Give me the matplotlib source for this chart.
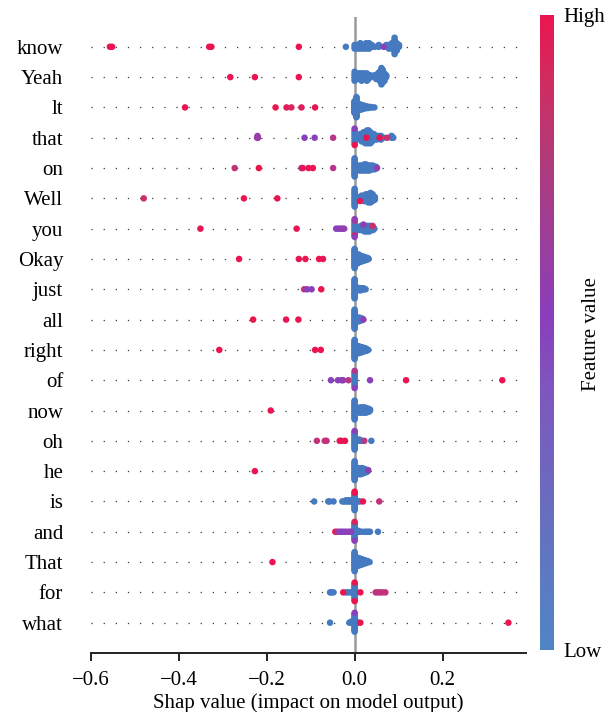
import numpy as np
import matplotlib
matplotlib.use("Agg")
import matplotlib.pyplot as plt
from matplotlib.colors import LinearSegmentedColormap
from matplotlib.cm import ScalarMappable

plt.rcParams['font.family'] = ['Liberation Serif', 'DejaVu Serif']

features = ["know", "Yeah", "lt", "that", "on", "Well", "you", "Okay", "just", "all",
            "right", "of", "now", "oh", "he", "is", "and", "That", "for", "what"]

# low-feature-value (blue) points: (SHAP value, number of points at that value)
know_low = [(-0.020, 1), (0, 3), (0.007, 3), (0.013, 4), (0.020, 3), (0.026, 4), (0.033, 4),
            (0.039, 2), (0.046, 1), (0.055, 2), (0.072, 2), (0.078, 3), (0.085, 4), (0.091, 6),
            (0.096, 5), (0.101, 2)]
Yeah_low = [(0, 6), (0.004, 3), (0.008, 4), (0.012, 4), (0.016, 5), (0.020, 4), (0.024, 4),
            (0.028, 5), (0.032, 3), (0.036, 2), (0.045, 2), (0.049, 3), (0.053, 4), (0.057, 6),
            (0.061, 10), (0.064, 8), (0.068, 5), (0.072, 2)]
lt_low = [(0, 22), (0.004, 14), (0.009, 12), (0.013, 10), (0.017, 8), (0.022, 6), (0.026, 4),
          (0.030, 3), (0.035, 2), (0.040, 1), (0.045, 1)]
that_low = [(0, 8), (0.007, 2), (0.012, 4), (0.016, 5), (0.020, 6), (0.024, 7), (0.028, 8),
            (0.032, 8), (0.036, 7), (0.040, 5), (0.044, 4), (0.050, 3), (0.055, 2), (0.060, 3),
            (0.066, 1), (0.084, 2), (0.088, 1)]
on_low = [(0, 16), (0.006, 3), (0.010, 5), (0.014, 5), (0.018, 5), (0.022, 6), (0.026, 6),
          (0.030, 5), (0.034, 5), (0.038, 4), (0.042, 4), (0.046, 3), (0.049, 2)]
Well_low = [(0, 14), (0.006, 2), (0.011, 3), (0.016, 4), (0.021, 5), (0.026, 6), (0.031, 7),
            (0.036, 8), (0.041, 6), (0.046, 3)]
you_low = [(0, 10), (0.006, 2), (0.010, 3), (0.014, 4), (0.018, 4), (0.022, 5), (0.026, 5),
           (0.030, 5), (0.034, 5), (0.038, 4), (0.042, 3), (0.045, 1)]
Okay_low = [(0, 22), (0.003, 12), (0.006, 11), (0.009, 10), (0.012, 8), (0.015, 7), (0.018, 6),
            (0.021, 5), (0.024, 4), (0.027, 3), (0.030, 2), (0.032, 1)]
just_low = [(0, 22), (0.003, 4), (0.006, 4), (0.009, 3), (0.012, 3), (0.015, 3), (0.018, 2),
            (0.021, 2), (0.025, 1)]
all_low = [(0, 22), (0.003, 6), (0.006, 5), (0.009, 5), (0.012, 4), (0.015, 3), (0.018, 2)]
right_low = [(0, 22), (0.003, 10), (0.007, 9), (0.010, 8), (0.014, 7), (0.017, 6), (0.020, 5),
             (0.024, 4), (0.027, 3), (0.031, 1)]
of_low = [(0, 10)]
now_low = [(0, 20), (0.003, 3), (0.006, 4), (0.009, 5), (0.012, 6), (0.015, 6), (0.018, 6),
           (0.021, 6), (0.024, 6), (0.027, 5), (0.030, 4), (0.033, 3), (0.035, 2)]
oh_low = [(0, 16), (0.003, 2), (0.006, 2), (0.009, 2), (0.012, 2), (0.016, 1), (0.038, 1)]
he_low = [(0, 20), (0.003, 5), (0.006, 6), (0.009, 7), (0.012, 7), (0.015, 7), (0.018, 6),
          (0.021, 5), (0.024, 4), (0.027, 3), (0.030, 1)]
is_low = [(-0.092, 1), (-0.060, 1), (-0.057, 1), (-0.048, 1), (-0.028, 1), (-0.024, 1),
          (-0.020, 2), (-0.016, 2), (-0.012, 2), (-0.008, 2), (-0.004, 2), (0, 15), (0.004, 2),
          (0.008, 1), (0.012, 1)]
and_low = [(-0.004, 1), (0, 18), (0.004, 2), (0.008, 2), (0.012, 1), (0.016, 1), (0.022, 1),
           (0.027, 1), (0.031, 1), (0.035, 1), (0.053, 1)]
That_low = [(0, 22), (0.003, 11), (0.006, 10), (0.009, 9), (0.012, 8), (0.015, 7), (0.018, 6),
            (0.021, 5), (0.024, 4), (0.027, 3), (0.030, 2), (0.034, 1)]
for_low = [(-0.056, 1), (-0.053, 1), (-0.048, 1), (-0.020, 1), (-0.015, 1), (-0.010, 1),
           (-0.005, 1), (0, 16), (0.005, 1)]
what_low = [(-0.056, 1), (-0.012, 1), (-0.008, 2), (-0.004, 2), (0, 18), (0.004, 2), (0.008, 1)]

# other points: (SHAP value, feature value 0..1)
know_high = [(-0.557, 1.0), (-0.552, 1.0), (-0.331, 1.0), (-0.326, 1.0), (-0.127, 1.0), (0.066, 0.5)]
Yeah_high = [(-0.283, 1.0), (-0.227, 1.0), (-0.127, 1.0)]
lt_high = [(-0.386, 1.0), (-0.180, 1.0), (-0.155, 0.95), (-0.144, 0.9), (-0.121, 0.95), (-0.090, 1.0)]
that_high = [(-0.222, 0.6), (-0.221, 0.6), (-0.220, 0.6), (-0.114, 0.5), (-0.091, 0.5), (-0.049, 0.75),
             (0.0, 1.0), (0.0, 0.5), (0.027, 1.0), (0.057, 1.0), (0.074, 0.85)]
on_high = [(-0.273, 0.8), (-0.218, 1.0), (-0.121, 0.55), (-0.118, 1.0), (-0.105, 1.0), (-0.095, 1.0),
           (-0.049, 0.75), (0.051, 0.55)]
Well_high = [(-0.480, 0.85), (-0.252, 1.0), (-0.176, 1.0), (0.012, 1.0)]
you_high = [(-0.351, 1.0), (-0.132, 1.0), (-0.042, 0.5), (-0.037, 0.5), (-0.032, 0.5), (-0.028, 0.55),
            (-0.024, 0.55), (0.0, 1.0), (0.0, 0.8), (0.0, 0.5), (0.0, 0.55), (0.020, 0.55), (0.041, 0.85)]
Okay_high = [(-0.263, 1.0), (-0.127, 1.0), (-0.112, 1.0), (-0.081, 1.0), (-0.072, 1.0)]
just_high = [(-0.115, 0.8), (-0.108, 0.5), (-0.098, 0.5), (-0.076, 1.0)]
all_high = [(-0.231, 1.0), (-0.156, 1.0), (-0.128, 1.0), (0.020, 0.55)]
right_high = [(-0.308, 1.0), (-0.090, 1.0), (-0.077, 1.0)]
of_high = [(-0.054, 0.5), (-0.038, 0.5), (-0.030, 0.5), (-0.026, 0.55), (-0.014, 0.75), (0.0, 0.5),
           (0.0, 0.7), (0.035, 0.5), (0.117, 1.0), (0.336, 1.0)]
now_high = [(-0.191, 1.0)]
oh_high = [(-0.086, 0.8), (-0.068, 0.8), (-0.064, 0.8), (-0.034, 1.0), (-0.030, 1.0), (-0.022, 1.0),
           (0.0, 0.0), (0.0, 0.5), (0.022, 0.75)]
he_high = [(-0.227, 1.0), (0.031, 0.55)]
is_high = [(0.0, 1.0), (0.0, 0.0), (0.0, 1.0), (0.019, 1.0), (0.056, 0.8)]
and_high = [(-0.044, 1.0), (-0.040, 0.85), (-0.035, 0.5), (-0.031, 0.5), (-0.027, 0.5), (-0.022, 0.5),
            (-0.017, 0.5), (-0.012, 0.55), (-0.008, 0.5), (0.0, 0.5), (0.0, 0.9)]
That_high = [(-0.187, 1.0)]
for_high = [(-0.026, 1.0), (0.0, 1.0), (0.0, 1.0), (0.013, 1.0), (0.048, 0.8), (0.053, 0.8),
            (0.058, 0.75), (0.063, 0.8), (0.070, 0.8)]
what_high = [(0.0, 0.0), (0.0, 0.5), (0.013, 1.0), (0.350, 1.0)]

low_values = [know_low, Yeah_low, lt_low, that_low, on_low, Well_low, you_low, Okay_low, just_low,
              all_low, right_low, of_low, now_low, oh_low, he_low, is_low, and_low, That_low,
              for_low, what_low]
high_values = [know_high, Yeah_high, lt_high, that_high, on_high, Well_high, you_high, Okay_high,
               just_high, all_high, right_high, of_high, now_high, oh_high, he_high, is_high,
               and_high, That_high, for_high, what_high]

xticks = [-0.6, -0.4, -0.2, 0.0, 0.2]

cmap = LinearSegmentedColormap.from_list("shapish", [
    (0.0, "#4579C0"), (0.2, "#5E70C0"), (0.4, "#7A58BE"), (0.5, "#8A3FBB"),
    (0.62, "#9C3CA4"), (0.75, "#B83686"), (0.88, "#D42A66"), (1.0, "#EA1550")])
cbar_cmap = LinearSegmentedColormap.from_list("shapbar", [
    (0.0, "#5085C5"), (0.2, "#6670BE"), (0.4, "#7D58BE"), (0.53, "#8A3DBB"),
    (0.65, "#9C3E98"), (0.78, "#B23A78"), (0.9, "#D02C60"), (1.0, "#EA1550")])


def swarm_offsets(vals, row_height=0.4, nbins=100):
    vals = np.asarray(vals, dtype=float)
    n = len(vals)
    quant = np.round(nbins * (vals - vals.min()) / (vals.max() - vals.min() + 1e-8))
    inds = np.argsort(quant, kind="stable")
    layer = 0
    last = -1
    ys = np.zeros(n)
    for i in inds:
        if quant[i] != last:
            layer = 0
        ys[i] = np.ceil(layer / 2) * ((layer % 2) * 2 - 1)
        layer += 1
        last = quant[i]
    ys *= 0.9 * (row_height / np.max(ys + 1))
    return ys


fig = plt.figure(figsize=(6.15, 7.12), dpi=100)
ax = fig.add_axes([91 / 615, 1 - 653 / 712, (526 - 91) / 615, (653 - 16.5) / 712])

n = len(features)
for i, feat in enumerate(features):
    pos = n - 1 - i
    ax.axhline(pos, color="#3a3a3a", lw=0.9, dashes=(1.0, 8.7), zorder=-1)
    lows = low_values[i]
    highs = high_values[i]
    xs = [v for v, k in lows for _ in range(k)] + [h[0] for h in highs]
    cs = [0.0 for v, k in lows for _ in range(k)] + [h[1] for h in highs]
    ys = swarm_offsets(xs)
    ax.scatter(xs, pos + ys, c=cs, cmap=cmap, vmin=0, vmax=1, s=22, linewidths=0,
               zorder=3)

ax.axvline(0, color="#9a9a9a", lw=1.8, zorder=-1)

ax.set_xlim(-0.6, 0.39)
ax.set_ylim(-1, n)
ax.set_yticks(range(n))
ax.set_yticklabels(features[::-1], fontsize=15)
ax.tick_params(axis="y", length=0, pad=20)
ax.set_xticks(xticks)
ax.set_xticklabels([f"{t:.1f}".replace("-", "\u2212") for t in xticks], fontsize=15)
ax.tick_params(axis="x", length=6, width=1.4, color="#222222", pad=7)
for s in ["top", "right", "left"]:
    ax.spines[s].set_visible(False)
ax.spines["bottom"].set_color("#222222")
ax.spines["bottom"].set_linewidth(1.4)
ax.set_xlabel("Shap value (impact on model output)", fontsize=15, labelpad=2)

cax = fig.add_axes([540 / 615, 1 - 650 / 712, 14 / 615, (650 - 15) / 712])
sm = ScalarMappable(cmap=cbar_cmap)
sm.set_clim(0, 1)
cb = fig.colorbar(sm, cax=cax, ticks=[0, 1])
cb.set_ticklabels(["Low", "High"])
cb.ax.tick_params(labelsize=15, length=0, pad=7)
cb.outline.set_visible(False)
fig.text(591 / 615, 1 - 334 / 712, "Feature value", rotation=90, fontsize=15,
         ha="center", va="center")

fig.savefig("out.png", dpi=100)
